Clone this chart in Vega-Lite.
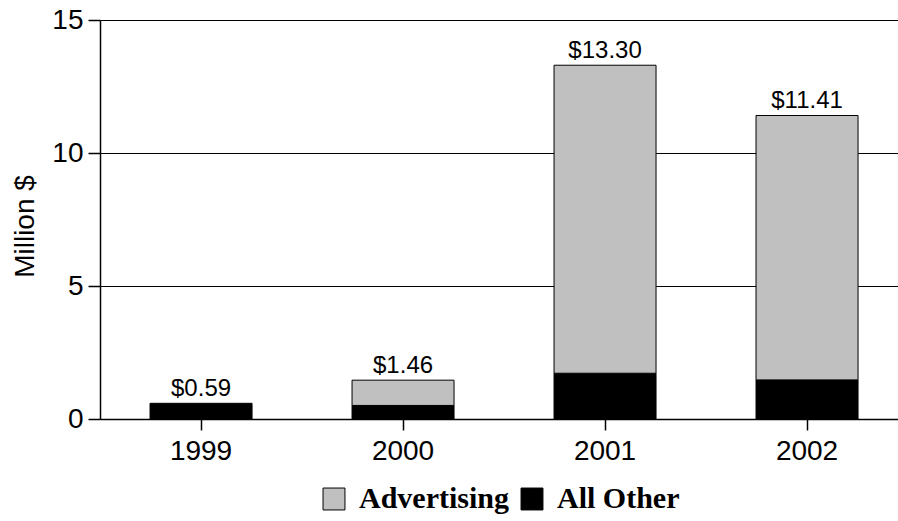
{
  "$schema": "https://vega.github.io/schema/vega-lite/v6.json",
  "autosize": {"type": "none"},
  "padding": {"left": 100, "top": 20, "right": 0, "bottom": 102},
  "width": 798,
  "height": 399,
  "config": {
    "view": {"stroke": null},
    "font": "Liberation Sans",
    "axis": {
      "labelFont": "Liberation Sans",
      "titleFont": "Liberation Sans",
      "labelColor": "#000000",
      "titleColor": "#000000",
      "domainColor": "#000000",
      "tickColor": "#000000",
      "gridColor": "#000000",
      "gridOpacity": 1,
      "domainWidth": 1.5,
      "tickWidth": 1.5
    }
  },
  "data": {
    "values": [
      {"year": "1999", "category": "All Other", "value": 0.59},
      {"year": "2000", "category": "All Other", "value": 0.51},
      {"year": "2000", "category": "Advertising", "value": 0.95},
      {"year": "2001", "category": "All Other", "value": 1.72},
      {"year": "2001", "category": "Advertising", "value": 11.58},
      {"year": "2002", "category": "All Other", "value": 1.47},
      {"year": "2002", "category": "Advertising", "value": 9.94}
    ]
  },
  "encoding": {
    "x": {
      "field": "year",
      "type": "ordinal",
      "scale": {"paddingInner": 0.495, "paddingOuter": 0.2228, "align": 0.556},
      "axis": {
        "title": null,
        "labelAngle": 0,
        "labelFontSize": 28,
        "tickSize": 11,
        "labelPadding": 7,
        "domain": true
      }
    }
  },
  "layer": [
    {
      "mark": {"type": "bar", "stroke": "#000000", "strokeWidth": 1},
      "encoding": {
        "y": {
          "field": "value",
          "type": "quantitative",
          "stack": "zero",
          "scale": {"domain": [0, 15], "nice": false},
          "axis": {
            "title": "Million $",
            "titleFontSize": 28,
            "titleFontWeight": "normal",
            "titlePadding": 12,
            "titleY": 206,
            "labelFontSize": 28,
            "values": [0, 5, 10, 15],
            "tickSize": 12,
            "labelPadding": 5,
            "grid": true,
            "gridWidth": 1
          }
        },
        "color": {
          "field": "category",
          "type": "nominal",
          "scale": {"domain": ["Advertising", "All Other"], "range": ["#c0c0c0", "#000000"]},
          "legend": {
            "title": null,
            "orient": "none",
            "direction": "horizontal",
            "legendX": 219,
            "legendY": 464,
            "symbolType": "square",
            "symbolSize": 480,
            "symbolStrokeColor": "#000000",
            "symbolStrokeWidth": 1,
            "symbolOpacity": 1,
            "labelFont": "Liberation Serif",
            "labelFontWeight": "bold",
            "labelFontSize": 30,
            "labelColor": "#000000",
            "labelOffset": 10,
            "columnPadding": 8
          }
        },
        "order": {"field": "category", "sort": "descending"}
      }
    },
    {
      "transform": [
        {"aggregate": [{"op": "sum", "field": "value", "as": "total"}], "groupby": ["year"]}
      ],
      "mark": {"type": "text", "baseline": "alphabetic", "dy": -7, "fontSize": 24, "color": "#000000", "font": "Liberation Sans"},
      "encoding": {
        "y": {"field": "total", "type": "quantitative"},
        "text": {"field": "total", "type": "quantitative", "format": "$.2f"}
      }
    }
  ]
}
